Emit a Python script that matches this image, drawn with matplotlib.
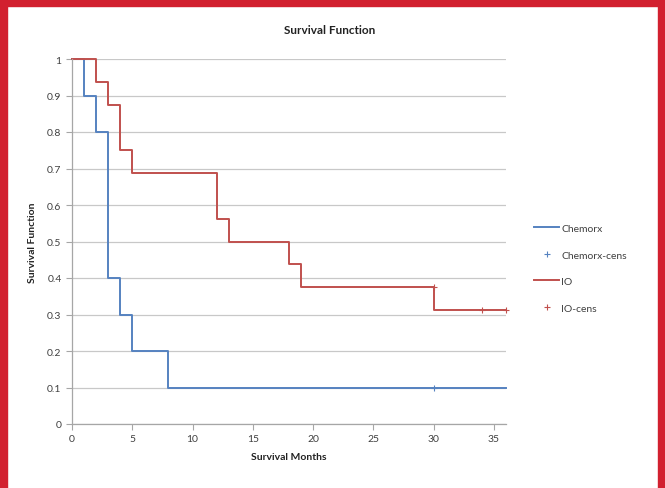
import matplotlib.pyplot as plt
from matplotlib.patches import Rectangle

plt.rcParams['font.family'] = ['Lato', 'DejaVu Sans']

# Kaplan-Meier steps (time, survival)
chemo_t = [0, 1, 2, 3, 4, 5, 8, 36]
chemo_s = [1.0, 0.9, 0.8, 0.4, 0.3, 0.2, 0.1, 0.1]
chemo_cens_t = [30]
chemo_cens_s = [0.1]

io_t = [0, 2, 3, 4, 5, 12, 13, 18, 19, 30, 36]
io_s = [1.0, 0.9375, 0.875, 0.75, 0.6875, 0.5625, 0.5, 0.4375, 0.375, 0.3125, 0.3125]
io_cens_t = [30, 34, 36]
io_cens_s = [0.375, 0.3125, 0.3125]

x_ticks = [0, 5, 10, 15, 20, 25, 30, 35]
y_ticks = [0, 0.1, 0.2, 0.3, 0.4, 0.5, 0.6, 0.7, 0.8, 0.9, 1]
y_labels = ['0', '0.1', '0.2', '0.3', '0.4', '0.5', '0.6', '0.7', '0.8', '0.9', '1']

blue = '#5582c0'
red = '#c0504d'

fig = plt.figure(figsize=(6.65, 4.89), dpi=100)
ax = fig.add_axes([72 / 665, 1 - 425 / 489, 434 / 665, 365 / 489])

ax.step(chemo_t, chemo_s, where='post', color=blue, lw=1.4, label='Chemorx', clip_on=False)
ax.plot(chemo_cens_t, chemo_cens_s, '+', color=blue, ms=5, mew=0.8, label='Chemorx-cens')
ax.step(io_t, io_s, where='post', color=red, lw=1.4, label='IO', clip_on=False)
ax.plot(io_cens_t, io_cens_s, '+', color=red, ms=5, mew=0.8, label='IO-cens', clip_on=False)

ax.set_xlim(0, 36)
ax.set_ylim(0, 1)
ax.set_xticks(x_ticks)
ax.set_yticks(y_ticks)
ax.set_yticklabels(y_labels)
ax.tick_params(labelsize=7.5, colors='#404040', length=4, width=0.8)
ax.tick_params(axis='both', color='#a6a6a6')
ax.yaxis.grid(True, color='#c8c8c8', lw=0.9)
ax.set_axisbelow(True)
for s in ['top', 'right']:
    ax.spines[s].set_visible(False)
for s in ['left', 'bottom']:
    ax.spines[s].set_color('#a6a6a6')
    ax.spines[s].set_linewidth(0.9)

fig.text(330 / 665, 1 - 31 / 489, 'Survival Function', ha='center', va='center',
         fontsize=8.5, fontweight='bold', color='#222222')
ax.set_xlabel('Survival Months', fontsize=7.5, fontweight='bold', color='#222222', labelpad=6)
ax.set_ylabel('Survival Function', fontsize=7.5, fontweight='bold', color='#222222', labelpad=7)

ax.legend(loc='center left', bbox_to_anchor=(1.043, 0.427), frameon=False, fontsize=7.5,
          handlelength=2.4, handletextpad=0.2, labelspacing=1.65, labelcolor='#404040')

# red frame around the figure
red_frame = '#d2202f'
fig.patches.append(Rectangle((0, 0), 7 / 665, 1, transform=fig.transFigure, color=red_frame))
fig.patches.append(Rectangle((658 / 665, 0), 7 / 665, 1, transform=fig.transFigure, color=red_frame))
fig.patches.append(Rectangle((0, 1 - 7 / 489), 1, 7 / 489, transform=fig.transFigure, color=red_frame))

fig.savefig('out.png', dpi=100)
